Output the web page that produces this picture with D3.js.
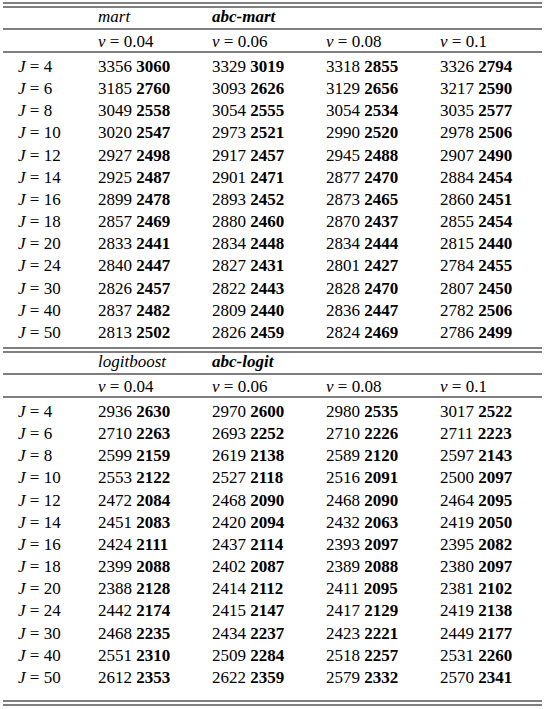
<!DOCTYPE html>
<html><head><meta charset="utf-8">
<script src="https://cdn.jsdelivr.net/npm/d3@7"></script>
<style>body{margin:0;background:#fff}</style>
</head><body><svg id="c" width="545" height="709"></svg>
<script>
const jValues = [4, 6, 8, 10, 12, 14, 16, 18, 20, 24, 30, 40, 50];
const nuLabels = ["0.04", "0.06", "0.08", "0.1"];
const martBase = [
  [3356,3329,3318,3326],[3185,3093,3129,3217],[3049,3054,3054,3035],[3020,2973,2990,2978],
  [2927,2917,2945,2907],[2925,2901,2877,2884],[2899,2893,2873,2860],[2857,2880,2870,2855],
  [2833,2834,2834,2815],[2840,2827,2801,2784],[2826,2822,2828,2807],[2837,2809,2836,2782],
  [2813,2826,2824,2786]];
const martAbc = [
  [3060,3019,2855,2794],[2760,2626,2656,2590],[2558,2555,2534,2577],[2547,2521,2520,2506],
  [2498,2457,2488,2490],[2487,2471,2470,2454],[2478,2452,2465,2451],[2469,2460,2437,2454],
  [2441,2448,2444,2440],[2447,2431,2427,2455],[2457,2443,2470,2450],[2482,2440,2447,2506],
  [2502,2459,2469,2499]];
const logitBase = [
  [2936,2970,2980,3017],[2710,2693,2710,2711],[2599,2619,2589,2597],[2553,2527,2516,2500],
  [2472,2468,2468,2464],[2451,2420,2432,2419],[2424,2437,2393,2395],[2399,2402,2389,2380],
  [2388,2414,2411,2381],[2442,2415,2417,2419],[2468,2434,2423,2449],[2551,2509,2518,2531],
  [2612,2622,2579,2570]];
const logitAbc = [
  [2630,2600,2535,2522],[2263,2252,2226,2223],[2159,2138,2120,2143],[2122,2118,2091,2097],
  [2084,2090,2090,2095],[2083,2094,2063,2050],[2111,2114,2097,2082],[2088,2087,2088,2097],
  [2128,2112,2095,2102],[2174,2147,2129,2138],[2235,2237,2221,2177],[2310,2284,2257,2260],
  [2353,2359,2332,2341]];
const blocks = [
  {base:"mart", abc:"abc-mart", b:martBase, a:martAbc, top:3},
  {base:"logitboost", abc:"abc-logit", b:logitBase, a:logitAbc, top:348}
];

const FONT = "'Times New Roman', 'Liberation Serif', 'DejaVu Serif', serif";
const svg = d3.select("#c")
  .attr("font-family", FONT).attr("font-size", 17);
const L = 3, R = 542;
const colX = c => c === "J" ? 18 : 98 + c * 114;

function hline(y, x1 = L, x2 = R, w = 1.2) {
  svg.append("line").attr("x1", x1).attr("x2", x2).attr("y1", y).attr("y2", y)
    .attr("stroke", "#000").attr("stroke-width", w);
}

blocks.forEach(bl => {
  const t = bl.top;
  hline(t); hline(t + 4);
  const y = d3.scaleBand().domain(jValues).range([t + 52, t + 52 + 13 * 22.15]);
  svg.append("text").attr("x", colX(0)).attr("y", t + 19).attr("font-style", "italic").text(bl.base);
  svg.append("text").attr("x", colX(1)).attr("y", t + 19).attr("font-style", "italic").attr("font-weight", "bold").text(bl.abc);
  hline(t + 26);
  nuLabels.forEach((n, i) => {
    const tx = svg.append("text").attr("x", colX(i)).attr("y", t + 44);
    tx.append("tspan").attr("font-style", "italic").text("ν");
    tx.append("tspan").text(" = " + n);
  });
  hline(t + 49);
  jValues.forEach((j, r) => {
    const yy = y(j) + 17;
    const tj = svg.append("text").attr("x", colX("J")).attr("y", yy);
    tj.append("tspan").attr("font-style", "italic").text("J");
    tj.append("tspan").text(" = " + j);
    for (let c = 0; c < 4; c++) {
      const tv = svg.append("text").attr("x", colX(c)).attr("y", yy);
      tv.append("tspan").text(bl.b[r][c] + " ");
      tv.append("tspan").attr("font-weight", "bold").text(bl.a[r][c]);
    }
  });
});
hline(701); hline(705);
</script></body></html>
